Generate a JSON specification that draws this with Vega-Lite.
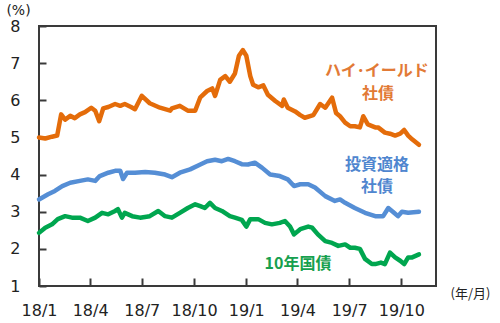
{
  "$schema": "https://vega.github.io/schema/vega-lite/v6.json",
  "width": 397,
  "height": 260,
  "autosize": "none",
  "padding": {"left": 39, "top": 26, "right": 64, "bottom": 37},
  "background": "white",
  "config": {
    "view": {"stroke": "#3a3a3a", "strokeWidth": 2},
    "font": "DejaVu Sans"
  },
  "datasets": {
    "series": [
      {"d": "2018-01-01", "s": "HY", "v": 5.0},
      {"d": "2018-01-12", "s": "HY", "v": 4.97},
      {"d": "2018-01-24", "s": "HY", "v": 5.02},
      {"d": "2018-02-02", "s": "HY", "v": 5.05},
      {"d": "2018-02-09", "s": "HY", "v": 5.62},
      {"d": "2018-02-16", "s": "HY", "v": 5.48},
      {"d": "2018-02-25", "s": "HY", "v": 5.58},
      {"d": "2018-03-05", "s": "HY", "v": 5.52},
      {"d": "2018-03-14", "s": "HY", "v": 5.62},
      {"d": "2018-03-23", "s": "HY", "v": 5.68},
      {"d": "2018-04-03", "s": "HY", "v": 5.8},
      {"d": "2018-04-10", "s": "HY", "v": 5.72},
      {"d": "2018-04-17", "s": "HY", "v": 5.44},
      {"d": "2018-04-24", "s": "HY", "v": 5.78},
      {"d": "2018-05-03", "s": "HY", "v": 5.82},
      {"d": "2018-05-15", "s": "HY", "v": 5.9},
      {"d": "2018-05-24", "s": "HY", "v": 5.85},
      {"d": "2018-06-01", "s": "HY", "v": 5.9},
      {"d": "2018-06-12", "s": "HY", "v": 5.82},
      {"d": "2018-06-19", "s": "HY", "v": 5.76},
      {"d": "2018-07-01", "s": "HY", "v": 6.12},
      {"d": "2018-07-15", "s": "HY", "v": 5.92},
      {"d": "2018-08-02", "s": "HY", "v": 5.8},
      {"d": "2018-08-20", "s": "HY", "v": 5.72},
      {"d": "2018-08-23", "s": "HY", "v": 5.78},
      {"d": "2018-09-06", "s": "HY", "v": 5.85},
      {"d": "2018-09-20", "s": "HY", "v": 5.72},
      {"d": "2018-10-03", "s": "HY", "v": 5.72},
      {"d": "2018-10-12", "s": "HY", "v": 6.08},
      {"d": "2018-10-24", "s": "HY", "v": 6.25},
      {"d": "2018-11-02", "s": "HY", "v": 6.32},
      {"d": "2018-11-07", "s": "HY", "v": 6.12},
      {"d": "2018-11-16", "s": "HY", "v": 6.55},
      {"d": "2018-11-25", "s": "HY", "v": 6.65},
      {"d": "2018-12-03", "s": "HY", "v": 6.5},
      {"d": "2018-12-12", "s": "HY", "v": 6.72},
      {"d": "2018-12-19", "s": "HY", "v": 7.2},
      {"d": "2018-12-26", "s": "HY", "v": 7.35},
      {"d": "2019-01-01", "s": "HY", "v": 7.2},
      {"d": "2019-01-08", "s": "HY", "v": 6.65},
      {"d": "2019-01-13", "s": "HY", "v": 6.42},
      {"d": "2019-01-22", "s": "HY", "v": 6.35},
      {"d": "2019-01-31", "s": "HY", "v": 6.4},
      {"d": "2019-02-08", "s": "HY", "v": 6.15},
      {"d": "2019-02-21", "s": "HY", "v": 5.98},
      {"d": "2019-03-05", "s": "HY", "v": 5.85},
      {"d": "2019-03-08", "s": "HY", "v": 6.02},
      {"d": "2019-03-15", "s": "HY", "v": 5.8},
      {"d": "2019-03-28", "s": "HY", "v": 5.7},
      {"d": "2019-04-06", "s": "HY", "v": 5.6},
      {"d": "2019-04-14", "s": "HY", "v": 5.53},
      {"d": "2019-04-29", "s": "HY", "v": 5.6},
      {"d": "2019-05-11", "s": "HY", "v": 5.9},
      {"d": "2019-05-20", "s": "HY", "v": 5.8},
      {"d": "2019-06-01", "s": "HY", "v": 6.07},
      {"d": "2019-06-08", "s": "HY", "v": 5.66},
      {"d": "2019-06-15", "s": "HY", "v": 5.57},
      {"d": "2019-06-24", "s": "HY", "v": 5.4},
      {"d": "2019-07-03", "s": "HY", "v": 5.3},
      {"d": "2019-07-11", "s": "HY", "v": 5.3},
      {"d": "2019-07-20", "s": "HY", "v": 5.27},
      {"d": "2019-07-26", "s": "HY", "v": 5.57},
      {"d": "2019-08-03", "s": "HY", "v": 5.35},
      {"d": "2019-08-16", "s": "HY", "v": 5.27},
      {"d": "2019-08-21", "s": "HY", "v": 5.27},
      {"d": "2019-09-02", "s": "HY", "v": 5.13},
      {"d": "2019-09-11", "s": "HY", "v": 5.1},
      {"d": "2019-09-20", "s": "HY", "v": 5.05},
      {"d": "2019-09-29", "s": "HY", "v": 5.1},
      {"d": "2019-10-06", "s": "HY", "v": 5.2},
      {"d": "2019-10-13", "s": "HY", "v": 5.05},
      {"d": "2019-10-20", "s": "HY", "v": 4.95},
      {"d": "2019-11-01", "s": "HY", "v": 4.8},

      {"d": "2018-01-01", "s": "IG", "v": 3.33},
      {"d": "2018-01-17", "s": "IG", "v": 3.47},
      {"d": "2018-01-29", "s": "IG", "v": 3.56},
      {"d": "2018-02-11", "s": "IG", "v": 3.69},
      {"d": "2018-02-25", "s": "IG", "v": 3.78},
      {"d": "2018-03-14", "s": "IG", "v": 3.83},
      {"d": "2018-03-28", "s": "IG", "v": 3.87},
      {"d": "2018-04-10", "s": "IG", "v": 3.83},
      {"d": "2018-04-18", "s": "IG", "v": 3.96},
      {"d": "2018-05-03", "s": "IG", "v": 4.05},
      {"d": "2018-05-15", "s": "IG", "v": 4.1},
      {"d": "2018-05-24", "s": "IG", "v": 4.1},
      {"d": "2018-05-29", "s": "IG", "v": 3.88},
      {"d": "2018-06-05", "s": "IG", "v": 4.05},
      {"d": "2018-06-19", "s": "IG", "v": 4.05},
      {"d": "2018-07-07", "s": "IG", "v": 4.07},
      {"d": "2018-07-24", "s": "IG", "v": 4.05},
      {"d": "2018-08-11", "s": "IG", "v": 4.0},
      {"d": "2018-08-23", "s": "IG", "v": 3.93},
      {"d": "2018-09-06", "s": "IG", "v": 4.05},
      {"d": "2018-09-24", "s": "IG", "v": 4.14},
      {"d": "2018-10-12", "s": "IG", "v": 4.27},
      {"d": "2018-10-24", "s": "IG", "v": 4.36},
      {"d": "2018-11-07", "s": "IG", "v": 4.4},
      {"d": "2018-11-19", "s": "IG", "v": 4.36},
      {"d": "2018-11-30", "s": "IG", "v": 4.42},
      {"d": "2018-12-12", "s": "IG", "v": 4.36},
      {"d": "2018-12-24", "s": "IG", "v": 4.28},
      {"d": "2019-01-04", "s": "IG", "v": 4.27},
      {"d": "2019-01-16", "s": "IG", "v": 4.32},
      {"d": "2019-01-29", "s": "IG", "v": 4.18},
      {"d": "2019-02-12", "s": "IG", "v": 4.0},
      {"d": "2019-03-01", "s": "IG", "v": 3.96},
      {"d": "2019-03-15", "s": "IG", "v": 3.87},
      {"d": "2019-03-26", "s": "IG", "v": 3.69},
      {"d": "2019-04-06", "s": "IG", "v": 3.74},
      {"d": "2019-04-20", "s": "IG", "v": 3.74},
      {"d": "2019-05-02", "s": "IG", "v": 3.65},
      {"d": "2019-05-20", "s": "IG", "v": 3.42},
      {"d": "2019-06-06", "s": "IG", "v": 3.29},
      {"d": "2019-06-15", "s": "IG", "v": 3.33},
      {"d": "2019-06-24", "s": "IG", "v": 3.24},
      {"d": "2019-07-11", "s": "IG", "v": 3.1},
      {"d": "2019-07-29", "s": "IG", "v": 2.97},
      {"d": "2019-08-16", "s": "IG", "v": 2.88},
      {"d": "2019-08-30", "s": "IG", "v": 2.88},
      {"d": "2019-09-08", "s": "IG", "v": 3.1},
      {"d": "2019-09-16", "s": "IG", "v": 3.0},
      {"d": "2019-09-25", "s": "IG", "v": 2.88},
      {"d": "2019-10-02", "s": "IG", "v": 3.0},
      {"d": "2019-10-13", "s": "IG", "v": 2.97},
      {"d": "2019-11-01", "s": "IG", "v": 3.0},

      {"d": "2018-01-01", "s": "UST", "v": 2.43},
      {"d": "2018-01-12", "s": "UST", "v": 2.57},
      {"d": "2018-01-24", "s": "UST", "v": 2.66},
      {"d": "2018-02-03", "s": "UST", "v": 2.8},
      {"d": "2018-02-16", "s": "UST", "v": 2.88},
      {"d": "2018-02-28", "s": "UST", "v": 2.84},
      {"d": "2018-03-14", "s": "UST", "v": 2.84},
      {"d": "2018-03-28", "s": "UST", "v": 2.75},
      {"d": "2018-04-10", "s": "UST", "v": 2.84},
      {"d": "2018-04-22", "s": "UST", "v": 2.97},
      {"d": "2018-05-03", "s": "UST", "v": 2.93},
      {"d": "2018-05-15", "s": "UST", "v": 3.02},
      {"d": "2018-05-20", "s": "UST", "v": 3.07},
      {"d": "2018-05-27", "s": "UST", "v": 2.84},
      {"d": "2018-06-01", "s": "UST", "v": 2.97},
      {"d": "2018-06-14", "s": "UST", "v": 2.88},
      {"d": "2018-06-28", "s": "UST", "v": 2.84},
      {"d": "2018-07-15", "s": "UST", "v": 2.88},
      {"d": "2018-07-30", "s": "UST", "v": 3.02},
      {"d": "2018-08-11", "s": "UST", "v": 2.88},
      {"d": "2018-08-23", "s": "UST", "v": 2.84},
      {"d": "2018-09-06", "s": "UST", "v": 2.97},
      {"d": "2018-09-20", "s": "UST", "v": 3.1},
      {"d": "2018-10-03", "s": "UST", "v": 3.2},
      {"d": "2018-10-12", "s": "UST", "v": 3.15},
      {"d": "2018-10-20", "s": "UST", "v": 3.1},
      {"d": "2018-10-29", "s": "UST", "v": 3.24},
      {"d": "2018-11-07", "s": "UST", "v": 3.1},
      {"d": "2018-11-19", "s": "UST", "v": 3.02},
      {"d": "2018-12-03", "s": "UST", "v": 2.88},
      {"d": "2018-12-12", "s": "UST", "v": 2.84},
      {"d": "2018-12-24", "s": "UST", "v": 2.78},
      {"d": "2019-01-01", "s": "UST", "v": 2.6},
      {"d": "2019-01-08", "s": "UST", "v": 2.8},
      {"d": "2019-01-22", "s": "UST", "v": 2.8},
      {"d": "2019-02-03", "s": "UST", "v": 2.7},
      {"d": "2019-02-15", "s": "UST", "v": 2.66},
      {"d": "2019-03-01", "s": "UST", "v": 2.7},
      {"d": "2019-03-10", "s": "UST", "v": 2.75},
      {"d": "2019-03-19", "s": "UST", "v": 2.6},
      {"d": "2019-03-26", "s": "UST", "v": 2.39},
      {"d": "2019-04-06", "s": "UST", "v": 2.53},
      {"d": "2019-04-20", "s": "UST", "v": 2.6},
      {"d": "2019-04-27", "s": "UST", "v": 2.57},
      {"d": "2019-05-07", "s": "UST", "v": 2.39},
      {"d": "2019-05-20", "s": "UST", "v": 2.21},
      {"d": "2019-06-01", "s": "UST", "v": 2.16},
      {"d": "2019-06-12", "s": "UST", "v": 2.08},
      {"d": "2019-06-24", "s": "UST", "v": 2.12},
      {"d": "2019-07-03", "s": "UST", "v": 2.03},
      {"d": "2019-07-11", "s": "UST", "v": 2.03},
      {"d": "2019-07-20", "s": "UST", "v": 2.0},
      {"d": "2019-07-29", "s": "UST", "v": 1.73},
      {"d": "2019-08-10", "s": "UST", "v": 1.59},
      {"d": "2019-08-16", "s": "UST", "v": 1.59},
      {"d": "2019-08-26", "s": "UST", "v": 1.63},
      {"d": "2019-09-02", "s": "UST", "v": 1.59},
      {"d": "2019-09-11", "s": "UST", "v": 1.9},
      {"d": "2019-09-20", "s": "UST", "v": 1.77},
      {"d": "2019-09-29", "s": "UST", "v": 1.68},
      {"d": "2019-10-06", "s": "UST", "v": 1.59},
      {"d": "2019-10-13", "s": "UST", "v": 1.77},
      {"d": "2019-10-20", "s": "UST", "v": 1.77},
      {"d": "2019-11-01", "s": "UST", "v": 1.85}
    ],
    "labels": [
      {"d": "2019-08-19", "v": 6.78, "s": "HY", "t": "ハイ･イールド"},
      {"d": "2019-08-21", "v": 6.16, "s": "HY", "t": "社債"},
      {"d": "2019-08-19", "v": 4.26, "s": "IG", "t": "投資適格"},
      {"d": "2019-08-19", "v": 3.67, "s": "IG", "t": "社債"},
      {"d": "2019-04-02", "v": 1.58, "s": "UST", "t": "10年国債"}
    ]
  },
  "encoding": {
    "x": {
      "field": "d",
      "type": "temporal",
      "scale": {"domain": ["2018-01-01", "2019-12-01"]},
      "axis": {
        "format": "%y/%-m",
        "tickCount": {"interval": "month", "step": 3},
        "grid": false,
        "domain": false,
        "tickSize": -8,
        "tickColor": "#3a3a3a",
        "tickWidth": 2,
        "labelFontSize": 16,
        "labelColor": "#222222",
        "labelPadding": 24,
        "labelFlush": false,
        "title": "(年/月)",
        "titleFontSize": 13,
        "titleFontWeight": "normal",
        "titleColor": "#222222",
        "titleX": 431,
        "titleY": 7,
        "titleAlign": "center",
        "titleBaseline": "middle",
        "titleFont": "Noto Sans CJK JP"
      }
    },
    "y": {
      "field": "v",
      "type": "quantitative",
      "scale": {"domain": [1, 8], "nice": false, "zero": false},
      "axis": {
        "values": [1, 2, 3, 4, 5, 6, 7, 8],
        "grid": false,
        "domain": false,
        "tickSize": -7,
        "tickColor": "#3a3a3a",
        "tickWidth": 2,
        "labelFontSize": 16,
        "labelColor": "#222222",
        "labelPadding": 26,
        "title": "(%)",
        "titleAngle": 0,
        "titleFontSize": 14,
        "titleFontWeight": "normal",
        "titleColor": "#222222",
        "titleX": -21,
        "titleY": -16,
        "titleAlign": "center",
        "titleBaseline": "middle"
      }
    }
  },
  "layer": [
    {
      "data": {"name": "series"},
      "mark": {"type": "line", "strokeWidth": 4.5, "strokeJoin": "round", "strokeCap": "round"},
      "encoding": {
        "color": {
          "field": "s",
          "type": "nominal",
          "scale": {"domain": ["HY", "IG", "UST"], "range": ["#E46C0A", "#558ED5", "#00A64F"]},
          "legend": null
        }
      }
    },
    {
      "data": {"name": "labels"},
      "transform": [{"filter": "datum.s === 'HY'"}],
      "mark": {"type": "text", "font": "Noto Sans CJK JP", "fontSize": 16, "fontWeight": "bold", "color": "#E27A36", "align": "center", "baseline": "middle"},
      "encoding": {"text": {"field": "t"}}
    },
    {
      "data": {"name": "labels"},
      "transform": [{"filter": "datum.s === 'IG'"}],
      "mark": {"type": "text", "font": "Noto Sans CJK JP", "fontSize": 16, "fontWeight": "bold", "color": "#4F86CF", "align": "center", "baseline": "middle"},
      "encoding": {"text": {"field": "t"}}
    },
    {
      "data": {"name": "labels"},
      "transform": [{"filter": "datum.s === 'UST'"}],
      "mark": {"type": "text", "font": "Noto Sans CJK JP", "fontSize": 16, "fontWeight": "bold", "color": "#16A04E", "align": "center", "baseline": "middle"},
      "encoding": {"text": {"field": "t"}}
    }
  ]
}
